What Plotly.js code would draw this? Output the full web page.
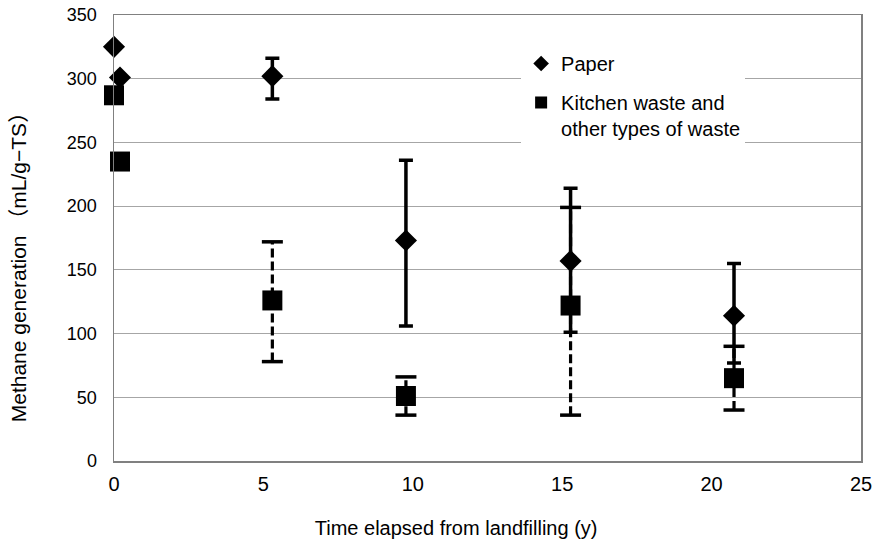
<!DOCTYPE html>
<html>
<head>
<meta charset="utf-8">
<script src="https://cdn.plot.ly/plotly-3.0.1.min.js"></script>
<style>html,body{margin:0;padding:0;background:#fff;}#chart{width:874px;height:544px;}</style>
</head>
<body>
<div id="chart"></div>
<script>
// Paper
var paperX = [0, 0.2, 5.3, 9.77, 15.28, 20.75];
var paperY = [325, 301, 302, 173, 157, 114];
var paperHi = [325, 301, 316, 236, 214, 155];
var paperLo = [325, 301, 284, 106, 101, 77];
// Kitchen waste and other types of waste
var kitchenX = [0, 0.2, 5.3, 9.77, 15.28, 20.75];
var kitchenY = [287, 235, 126, 51, 122, 65];
var kitchenHi = [287, 235, 172, 66, 199, 90];
var kitchenLo = [287, 235, 78, 36, 36, 40];
var xTicks = [0, 5, 10, 15, 20, 25];
var yTicks = [0, 50, 100, 150, 200, 250, 300, 350];

var paperPlus = paperHi.map(function(v, i){ return v - paperY[i]; });
var paperMinus = paperLo.map(function(v, i){ return paperY[i] - v; });

var errX = [], errY = [];
kitchenX.forEach(function(x, i){
  if (kitchenHi[i] > kitchenLo[i]) {
    errX.push(x, x, null);
    errY.push(kitchenLo[i], kitchenHi[i], null);
  }
});

var fontLat = 'Liberation Sans, Arial, sans-serif';

var traces = [
  {
    x: errX, y: errY, type: 'scatter', mode: 'lines+markers',
    line: {color: '#000', width: 3.2, dash: '9px,4px'},
    marker: {symbol: 'line-ew', size: 15, color: '#000', line: {color: '#000', width: 3.5}},
    showlegend: false, hoverinfo: 'skip', cliponaxis: false, connectgaps: false
  },
  {
    x: paperX, y: paperY, type: 'scatter', mode: 'markers', name: 'Paper',
    legendgroup: 'g1',
    marker: {symbol: 'diamond', size: 17, color: '#000'},
    error_y: {type: 'data', symmetric: false, array: paperPlus, arrayminus: paperMinus,
              color: '#000', thickness: 3.5, width: 7},
    cliponaxis: false, legendrank: 1
  },
  {
    x: kitchenX, y: kitchenY, type: 'scatter', mode: 'markers',
    name: 'Kitchen waste and<br>other types of waste', legendgroup: 'g2',
    marker: {symbol: 'square', size: 20, color: '#000'},
    cliponaxis: false, legendrank: 2
  },
  // empty trace carrying the title axes
  {x: [], y: [], xaxis: 'x2', yaxis: 'y2', type: 'scatter', mode: 'markers',
   showlegend: false, hoverinfo: 'skip'}
];

var layout = {
  width: 874, height: 544,
  margin: {l: 114, r: 13, t: 15, b: 83},
  paper_bgcolor: '#fff', plot_bgcolor: 'rgba(0,0,0,0)',
  font: {family: fontLat, color: '#000', size: 17},
  showlegend: true,
  legend: {
    x: 0.545, y: 0.935, xanchor: 'left', yanchor: 'top',
    bgcolor: 'rgba(255,255,255,1)', borderwidth: 0,
    font: {family: fontLat, size: 20, color: '#000'},
    itemsizing: 'constant', valign: 'top', traceorder: 'grouped', tracegroupgap: 10
  },
  xaxis: {
    range: [0, 25], tickvals: xTicks, ticktext: xTicks.map(String),
    showgrid: false, zeroline: false,
    showline: true, mirror: true, linecolor: '#808080', linewidth: 1.5,
    ticks: '', ticklabelstandoff: 4, ticklabeloverflow: 'allow',
    tickfont: {family: fontLat, size: 20, color: '#000'},
    automargin: false
  },
  yaxis: {
    range: [0, 350], tickvals: yTicks, ticktext: yTicks.map(String),
    showgrid: true, gridcolor: '#a6a6a6', gridwidth: 1, zeroline: false,
    showline: true, mirror: true, linecolor: '#808080', linewidth: 1.5,
    ticks: '', ticklabelstandoff: 12,
    tickfont: {family: fontLat, size: 18, color: '#000'},
    automargin: false
  },
  xaxis2: {
    domain: [0, 0.916], anchor: 'y2', range: [0, 1],
    showgrid: false, zeroline: false, showline: false, showticklabels: false, ticks: '',
    title: {text: 'Time elapsed from landfilling (y)', standoff: 59,
            font: {family: fontLat, size: 20, color: '#000'}},
    automargin: false
  },
  yaxis2: {
    domain: [0, 0.892], anchor: 'x2', range: [0, 1],
    showgrid: false, zeroline: false, showline: false, showticklabels: false, ticks: '',
    title: {text: 'Methane generation \uFF08mL/g\u2212TS\uFF09', standoff: 80,
            font: {family: fontLat + ', Noto Sans CJK JP', size: 21, color: '#000'}},
    automargin: false
  }
};

Plotly.newPlot('chart', traces, layout, {staticPlot: true, displayModeBar: false});
</script>
</body>
</html>
